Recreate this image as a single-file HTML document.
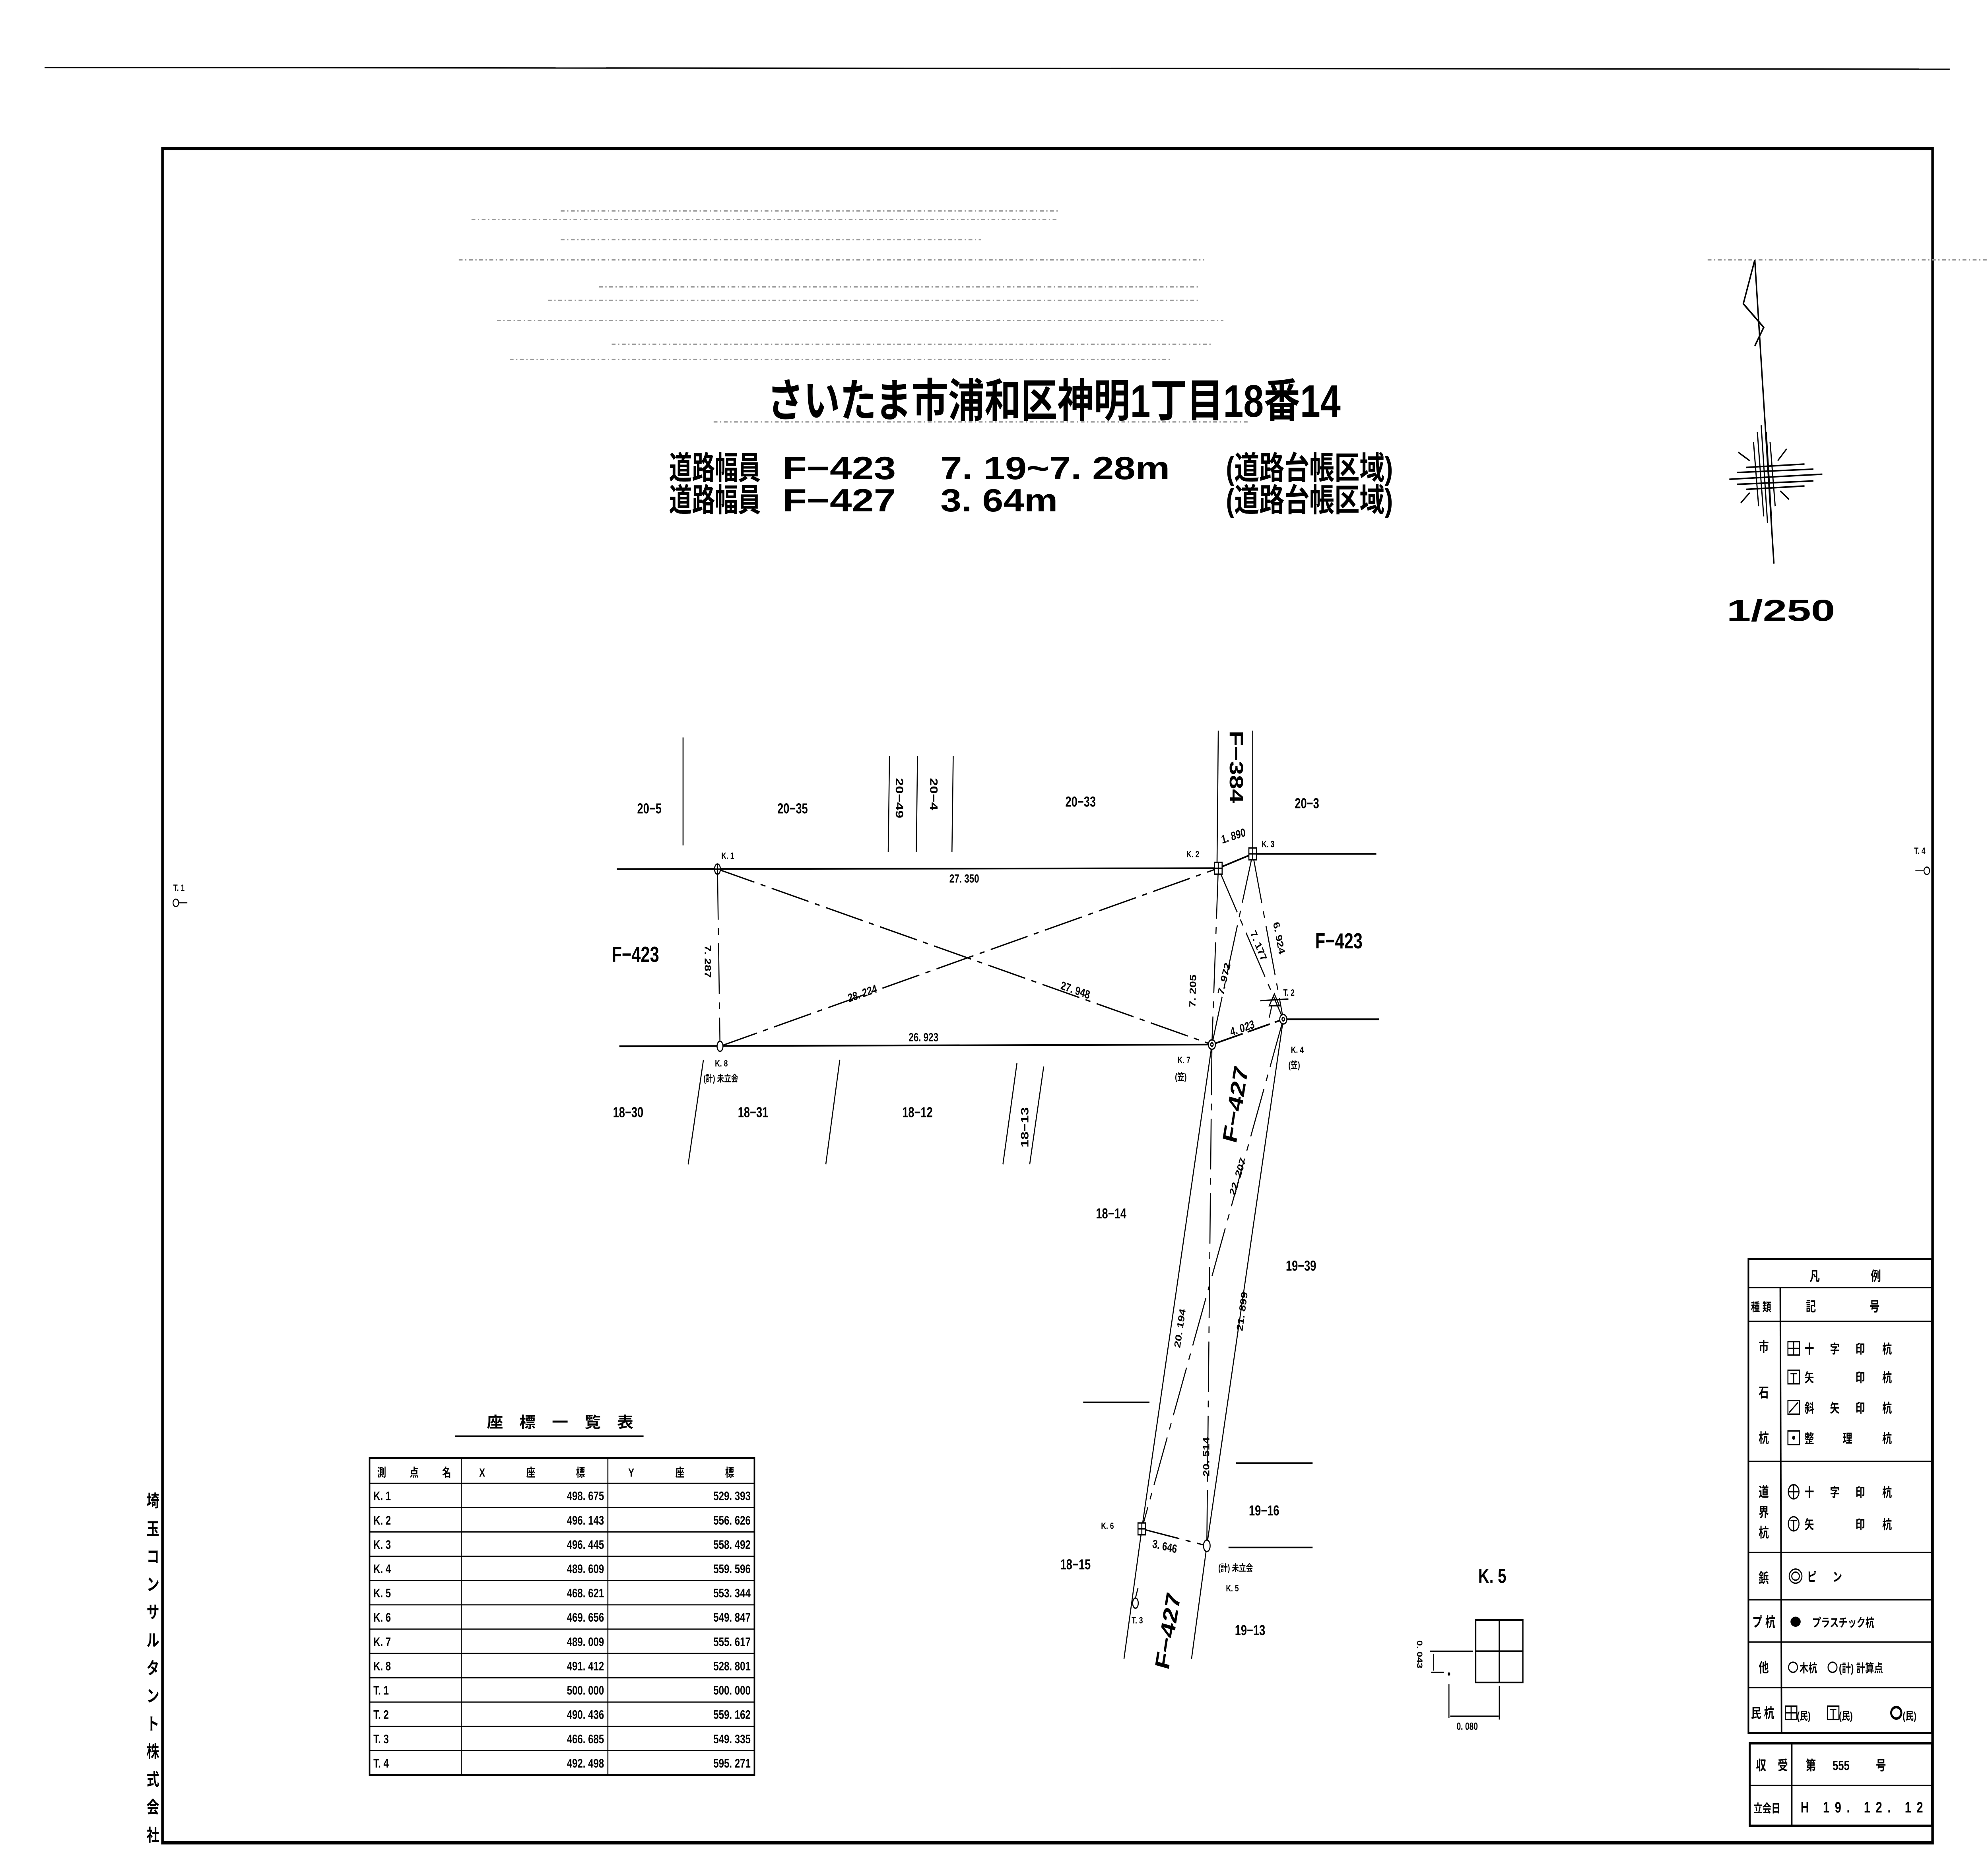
<!DOCTYPE html>
<html><head><meta charset="utf-8"><style>
html,body{margin:0;padding:0;background:#fff;overflow:hidden;width:100vw;height:100vh;}
svg{display:block;position:absolute;left:0;top:0;width:100vw;height:100vh;}
text{font-family:"Liberation Sans","Noto Sans CJK JP",sans-serif;font-weight:bold;fill:#000;}
</style></head><body>
<svg xmlns="http://www.w3.org/2000/svg" viewBox="0 0 1560 1102.8" preserveAspectRatio="none">
<rect width="1560" height="1102.8" fill="#fff"/>
<line x1="35" y1="40" x2="1530" y2="41" stroke="#000" stroke-width="0.8"/>
<rect x="127.5" y="88" width="1389" height="1004" fill="none" stroke="#000" stroke-width="2"/>
<g stroke="#999" stroke-width="0.8" stroke-dasharray="3 2 1 2">
<line x1="440" y1="125" x2="830" y2="125"/>
<line x1="370" y1="130" x2="830" y2="130"/>
<line x1="440" y1="142" x2="770" y2="142"/>
<line x1="360" y1="154" x2="945" y2="154"/>
<line x1="470" y1="170" x2="940" y2="170"/>
<line x1="430" y1="178" x2="940" y2="178"/>
<line x1="390" y1="190" x2="960" y2="190"/>
<line x1="480" y1="204" x2="950" y2="204"/>
<line x1="400" y1="213" x2="920" y2="213"/>
<line x1="560" y1="250" x2="980" y2="250"/>
<line x1="1340" y1="154" x2="1560" y2="154"/>
</g>
<text x="602" y="247" font-size="27" textLength="450" lengthAdjust="spacingAndGlyphs">さいたま市浦和区神明1丁目18番14</text>
<g font-size="19">
<text x="525" y="284" textLength="72" lengthAdjust="spacingAndGlyphs">道路幅員</text>
<text x="614" y="284" textLength="89" lengthAdjust="spacingAndGlyphs">F−423</text>
<text x="738" y="284" textLength="180" lengthAdjust="spacingAndGlyphs">7. 19~7. 28m</text>
<text x="962" y="284" textLength="131" lengthAdjust="spacingAndGlyphs">(道路台帳区域)</text>
<text x="525" y="303" textLength="72" lengthAdjust="spacingAndGlyphs">道路幅員</text>
<text x="614" y="303" textLength="89" lengthAdjust="spacingAndGlyphs">F−427</text>
<text x="738" y="303" textLength="92" lengthAdjust="spacingAndGlyphs">3. 64m</text>
<text x="962" y="303" textLength="131" lengthAdjust="spacingAndGlyphs">(道路台帳区域)</text>
</g>
<g stroke="#000" stroke-width="1.1" fill="none">
<polyline points="1377,154 1368,180 1384,194 1377,205"/>
<line x1="1377" y1="154" x2="1392" y2="334"/>
<g stroke-width="0.9">
<line x1="1357" y1="284" x2="1430" y2="281"/>
<line x1="1363" y1="287" x2="1423" y2="285"/>
<line x1="1363" y1="280" x2="1423" y2="278"/>
<line x1="1370" y1="290" x2="1416" y2="288"/>
<line x1="1370" y1="277" x2="1416" y2="275"/>
<line x1="1382" y1="252" x2="1387" y2="310"/>
<line x1="1379" y1="256" x2="1384" y2="306"/>
<line x1="1386" y1="256" x2="1390" y2="306"/>
<line x1="1376" y1="262" x2="1380" y2="300"/>
<line x1="1389" y1="262" x2="1393" y2="300"/>
<line x1="1364" y1="268" x2="1373" y2="273"/>
<line x1="1402" y1="266" x2="1395" y2="273"/>
<line x1="1366" y1="298" x2="1373" y2="292"/>
<line x1="1404" y1="296" x2="1397" y2="291"/>
</g>
</g>
<text x="1355" y="368" font-size="18" textLength="85" lengthAdjust="spacingAndGlyphs">1/250</text>

<circle cx="138" cy="535" r="2.2" fill="none" stroke="#000" stroke-width="0.7"/>
<line x1="140" y1="535" x2="147" y2="535" stroke="#000" stroke-width="0.6"/>
<text x="136" y="528" font-size="5.5">T. 1</text>
<circle cx="1512" cy="516" r="2.2" fill="none" stroke="#000" stroke-width="0.7"/>
<line x1="1503" y1="516" x2="1510" y2="516" stroke="#000" stroke-width="0.6"/>
<text x="1502" y="506" font-size="5.5">T. 4</text>

<g stroke="#000" stroke-width="1" fill="none">
<line x1="484" y1="515" x2="956" y2="514.5"/>
<line x1="983" y1="506" x2="1080" y2="506"/>
<line x1="956" y1="514.5" x2="983" y2="506"/>
<line x1="486" y1="620" x2="951" y2="619"/>
<line x1="1007" y1="604" x2="1082" y2="604"/>
<line x1="951" y1="619" x2="1007" y2="604" stroke-dasharray="25 4 18 4"/>
<polyline points="951,619 896,906 882,983" stroke-width="0.8"/>
<polyline points="1007,604 947,916 935,983" stroke-width="0.8"/>
<line x1="536" y1="437" x2="536" y2="501" stroke-width="0.8"/>
<line x1="698" y1="448" x2="697" y2="505" stroke-width="0.8"/>
<line x1="720" y1="448" x2="719" y2="505" stroke-width="0.8"/>
<line x1="748" y1="448" x2="747" y2="505" stroke-width="0.8"/>
<line x1="956" y1="433" x2="955" y2="513" stroke-width="0.8"/>
<line x1="983" y1="433" x2="983" y2="505" stroke-width="0.8"/>
<line x1="552" y1="628" x2="540" y2="690" stroke-width="0.8"/>
<line x1="659" y1="628" x2="648" y2="690" stroke-width="0.8"/>
<line x1="798" y1="630" x2="787" y2="690" stroke-width="0.8"/>
<line x1="819" y1="632" x2="808" y2="690" stroke-width="0.8"/>
<line x1="850" y1="831" x2="902" y2="831" stroke-width="0.9"/>
<line x1="970" y1="867" x2="1030" y2="867" stroke-width="0.9"/>
<line x1="964" y1="917" x2="1030" y2="917" stroke-width="0.9"/>
</g>
<g stroke="#000" stroke-width="0.8" fill="none" stroke-dasharray="30 5 4 5">
<line x1="563" y1="515" x2="951" y2="619"/>
<line x1="565" y1="620" x2="956" y2="514.5"/>
<line x1="563" y1="515" x2="565" y2="620"/>
<line x1="956" y1="514.5" x2="951" y2="619"/>
<line x1="983" y1="506" x2="951" y2="619"/>
<line x1="956" y1="514.5" x2="1007" y2="604"/>
<line x1="983" y1="506" x2="1007" y2="604"/>
<line x1="951" y1="619" x2="947" y2="916"/>
<line x1="1007" y1="604" x2="896" y2="906"/>
<line x1="896" y1="906" x2="947" y2="916"/>
</g>
<g stroke="#000" stroke-width="0.8" fill="#fff">
<ellipse cx="563" cy="515" rx="2.3" ry="3"/>
<line x1="563" y1="512" x2="563" y2="518"/>
<line x1="560.7" y1="515" x2="565.3" y2="515"/>
<ellipse cx="565" cy="620" rx="2.3" ry="3"/>
<rect x="953" y="511" width="6" height="7"/>
<line x1="956" y1="511" x2="956" y2="518"/><line x1="953" y1="514.5" x2="959" y2="514.5"/>
<rect x="980" y="502.5" width="6" height="7"/>
<line x1="983" y1="502.5" x2="983" y2="509.5"/><line x1="980" y1="506" x2="986" y2="506"/>
<circle cx="1007" cy="604" r="2.8"/><circle cx="1007" cy="604" r="1" fill="#fff"/>
<circle cx="951" cy="619" r="2.8"/><circle cx="951" cy="619" r="1" fill="#fff"/>
<rect x="893" y="902.5" width="6" height="7"/>
<line x1="896" y1="902.5" x2="896" y2="909.5"/><line x1="893" y1="906" x2="899" y2="906"/>
<ellipse cx="947" cy="916" rx="2.6" ry="3.4"/>
<ellipse cx="891" cy="950" rx="2.2" ry="3"/>
<line x1="891" y1="947" x2="893" y2="941"/>
</g>
<g stroke="#000" stroke-width="0.8" fill="none">
<line x1="989" y1="593" x2="1011" y2="592"/>
<path d="M996,596 L1000,589 L1004,596 Z"/>
<line x1="998" y1="596" x2="996" y2="603"/>
</g>

<g font-size="5.5">
<text x="566" y="509">K. 1</text>
<text x="931" y="508">K. 2</text>
<text x="990" y="502">K. 3</text>
<text x="1007" y="590">T. 2</text>
<text x="1013" y="624">K. 4</text>
<text x="1011" y="633">(笠)</text>
<text x="924" y="630">K. 7</text>
<text x="922" y="640">(笠)</text>
<text x="561" y="632">K. 8</text>
<text x="552" y="641">(計) 未立会</text>
<text x="864" y="906">K. 6</text>
<text x="956" y="931">(計) 未立会</text>
<text x="962" y="943">K. 5</text>
<text x="888" y="962">T. 3</text>
</g>
<g font-size="7">
<text x="745" y="523">27. 350</text>
<text x="713" y="617">26. 923</text>
<text transform="translate(666,594) rotate(-15)">28. 224</text>
<text transform="translate(832,586) rotate(15)">27. 948</text>
<text transform="translate(553,560) rotate(90)">7. 287</text>
<text transform="translate(959,500) rotate(-14)">1. 890</text>
<text transform="translate(938,597) rotate(-88)">7. 205</text>
<text transform="translate(960,590) rotate(-73)">7. 972</text>
<text transform="translate(981,553) rotate(62)">7. 177</text>
<text transform="translate(999,547) rotate(76)">6. 924</text>
<text transform="translate(966,614) rotate(-15)">4. 023</text>
<text transform="translate(969,709) rotate(-68)">22. 207</text>
<text transform="translate(926,799) rotate(-79)">20. 194</text>
<text transform="translate(975,789) rotate(-80)">21. 899</text>
<text transform="translate(949,875) rotate(-90)">20. 514</text>
<text transform="translate(904,917) rotate(10)">3. 646</text>
</g>
<g font-size="13">
<text x="480" y="570">F−423</text>
<text x="1032" y="562">F−423</text>
<text font-size="15" transform="translate(965,433) rotate(90)">F−384</text>
<text font-size="16" transform="translate(970,678) rotate(-78)">F−427</text>
<text font-size="16" transform="translate(917,990) rotate(-78)">F−427</text>
</g>
<g font-size="8.5">
<text x="500" y="482">20−5</text>
<text x="610" y="482">20−35</text>
<text x="836" y="478">20−33</text>
<text x="1016" y="479">20−3</text>
<text transform="translate(703,461) rotate(90)">20−49</text>
<text transform="translate(730,461) rotate(90)">20−4</text>
<text x="481" y="662">18−30</text>
<text x="579" y="662">18−31</text>
<text x="708" y="662">18−12</text>
<text transform="translate(807,680) rotate(-90)">18−13</text>
<text x="860" y="722">18−14</text>
<text x="1009" y="753">19−39</text>
<text x="980" y="898">19−16</text>
<text x="832" y="930">18−15</text>
<text x="969" y="969">19−13</text>
</g>

<text x="382" y="846" font-size="9" textLength="115" lengthAdjust="spacingAndGlyphs">座　標　一　覧　表</text>
<line x1="357" y1="851" x2="505" y2="851" stroke="#000" stroke-width="0.8"/>
<g stroke="#000" fill="none">
<rect x="290" y="864" width="302" height="188" stroke-width="1.2"/>
<line x1="362" y1="864" x2="362" y2="1052" stroke-width="0.8"/>
<line x1="477" y1="864" x2="477" y2="1052" stroke-width="0.8"/>
<g stroke-width="0.7">
<line x1="290" y1="879" x2="592" y2="879"/>
<line x1="290" y1="893.4" x2="592" y2="893.4"/>
<line x1="290" y1="907.8" x2="592" y2="907.8"/>
<line x1="290" y1="922.2" x2="592" y2="922.2"/>
<line x1="290" y1="936.6" x2="592" y2="936.6"/>
<line x1="290" y1="951" x2="592" y2="951"/>
<line x1="290" y1="965.4" x2="592" y2="965.4"/>
<line x1="290" y1="979.8" x2="592" y2="979.8"/>
<line x1="290" y1="994.2" x2="592" y2="994.2"/>
<line x1="290" y1="1008.6" x2="592" y2="1008.6"/>
<line x1="290" y1="1023" x2="592" y2="1023"/>
<line x1="290" y1="1037.4" x2="592" y2="1037.4"/>
</g></g>
<g font-size="7">
<text x="296" y="875" textLength="58" lengthAdjust="spacing">測　点　名</text>
<text x="376" y="875">X</text><text x="413" y="875">座</text><text x="452" y="875">標</text>
<text x="493" y="875">Y</text><text x="530" y="875">座</text><text x="569" y="875">標</text>
</g>
<g font-size="7.5">
<g>
<text x="293" y="889">K. 1</text><text x="293" y="903.4">K. 2</text><text x="293" y="917.8">K. 3</text>
<text x="293" y="932.2">K. 4</text><text x="293" y="946.6">K. 5</text><text x="293" y="961">K. 6</text>
<text x="293" y="975.4">K. 7</text><text x="293" y="989.8">K. 8</text><text x="293" y="1004.2">T. 1</text>
<text x="293" y="1018.6">T. 2</text><text x="293" y="1033">T. 3</text><text x="293" y="1047.4">T. 4</text>
</g>
<g text-anchor="end">
<text x="474" y="889">498. 675</text><text x="589" y="889">529. 393</text>
<text x="474" y="903.4">496. 143</text><text x="589" y="903.4">556. 626</text>
<text x="474" y="917.8">496. 445</text><text x="589" y="917.8">558. 492</text>
<text x="474" y="932.2">489. 609</text><text x="589" y="932.2">559. 596</text>
<text x="474" y="946.6">468. 621</text><text x="589" y="946.6">553. 344</text>
<text x="474" y="961">469. 656</text><text x="589" y="961">549. 847</text>
<text x="474" y="975.4">489. 009</text><text x="589" y="975.4">555. 617</text>
<text x="474" y="989.8">491. 412</text><text x="589" y="989.8">528. 801</text>
<text x="474" y="1004.2">500. 000</text><text x="589" y="1004.2">500. 000</text>
<text x="474" y="1018.6">490. 436</text><text x="589" y="1018.6">559. 162</text>
<text x="474" y="1033">466. 685</text><text x="589" y="1033">549. 335</text>
<text x="474" y="1047.4">492. 498</text><text x="589" y="1047.4">595. 271</text>
</g></g>

<g font-size="10" text-anchor="middle">
<text x="120" y="893">埼</text><text x="120" y="909.5">玉</text><text x="120" y="926">コ</text>
<text x="120" y="942.5">ン</text><text x="120" y="959">サ</text><text x="120" y="975.5">ル</text>
<text x="120" y="992">タ</text><text x="120" y="1008.5">ン</text><text x="120" y="1025">ト</text>
<text x="120" y="1041.5">株</text><text x="120" y="1058">式</text><text x="120" y="1074.5">会</text>
<text x="120" y="1091">社</text>
</g>

<text x="1160" y="938" font-size="12">K. 5</text>
<g stroke="#000" fill="none" stroke-width="1">
<rect x="1158" y="960" width="37" height="37"/>
<line x1="1176.5" y1="960" x2="1176.5" y2="997"/>
<line x1="1158" y1="978.5" x2="1195" y2="978.5"/>
<line x1="1122" y1="978.5" x2="1156" y2="978.5" stroke-width="0.8"/>
<line x1="1123" y1="991" x2="1133" y2="991" stroke-width="0.8"/>
<line x1="1125" y1="980" x2="1125" y2="990" stroke-width="0.8"/>
<line x1="1137" y1="998" x2="1137" y2="1018" stroke-width="0.8"/>
<line x1="1176.5" y1="999" x2="1176.5" y2="1019" stroke-width="0.8"/>
<line x1="1138" y1="1017" x2="1176" y2="1017" stroke-width="0.8"/>
</g>
<circle cx="1137" cy="992" r="1" fill="#000"/>
<g font-size="6">
<text transform="translate(1112,972) rotate(90)">0. 043</text>
<text x="1143" y="1025">0. 080</text>
</g>

<g stroke="#000" fill="none">
<rect x="1372" y="746" width="144" height="281" stroke-width="1.3"/>
<line x1="1372" y1="763" x2="1516" y2="763" stroke-width="0.8"/>
<line x1="1372" y1="783" x2="1516" y2="783" stroke-width="0.8"/>
<line x1="1372" y1="866" x2="1516" y2="866" stroke-width="0.8"/>
<line x1="1372" y1="920" x2="1516" y2="920" stroke-width="0.8"/>
<line x1="1372" y1="948" x2="1516" y2="948" stroke-width="0.8"/>
<line x1="1372" y1="973" x2="1516" y2="973" stroke-width="0.8"/>
<line x1="1372" y1="1000" x2="1516" y2="1000" stroke-width="0.8"/>
<line x1="1397" y1="763" x2="1398" y2="1027" stroke-width="1.2"/>
<rect x="1373" y="1033" width="143" height="49" stroke-width="1.5"/>
<line x1="1373" y1="1058" x2="1516" y2="1058" stroke-width="0.8"/>
<line x1="1406" y1="1033" x2="1406" y2="1082" stroke-width="1.2"/>
</g>
<g font-size="8">
<text x="1420" y="759">凡</text><text x="1468" y="759">例</text>
<text x="1374" y="777" font-size="7">種 類</text>
<text x="1417" y="777">記</text><text x="1467" y="777">号</text>
<text x="1380" y="801">市</text><text x="1380" y="828">石</text><text x="1380" y="855">杭</text>
<text x="1380" y="887">道</text><text x="1380" y="899">界</text><text x="1380" y="911">杭</text>
<text x="1380" y="938">鋲</text>
<text x="1375" y="964">プ 杭</text>
<text x="1380" y="991">他</text>
<text x="1374" y="1018">民 杭</text>
<text x="1378" y="1049">収</text><text x="1395" y="1049">受</text>
<text x="1376" y="1074" font-size="7">立会日</text>
<text x="1417" y="1049">第</text><text x="1438" y="1049" font-size="8">555</text><text x="1472" y="1049">号</text>
<text x="1413" y="1074" font-size="9" textLength="96" lengthAdjust="spacing">H 19. 12. 12</text>
</g>
<g font-size="7.5">
<text x="1416" y="802">十</text><text x="1436" y="802">字</text><text x="1456" y="802">印</text><text x="1477" y="802">杭</text>
<text x="1416" y="819">矢</text><text x="1456" y="819">印</text><text x="1477" y="819">杭</text>
<text x="1416" y="837">斜</text><text x="1436" y="837">矢</text><text x="1456" y="837">印</text><text x="1477" y="837">杭</text>
<text x="1416" y="855">整</text><text x="1446" y="855">理</text><text x="1477" y="855">杭</text>
<text x="1416" y="887">十</text><text x="1436" y="887">字</text><text x="1456" y="887">印</text><text x="1477" y="887">杭</text>
<text x="1416" y="906">矢</text><text x="1456" y="906">印</text><text x="1477" y="906">杭</text>
<text x="1418" y="937">ピ</text><text x="1438" y="937">ン</text>
<text x="1422" y="964" font-size="7">プラスチック杭</text>
<text x="1412" y="991" font-size="7">木杭</text>
<text x="1443" y="991" font-size="7">(計) 計算点</text>
<text x="1410" y="1019" font-size="6.5">(民)</text>
<text x="1443" y="1019" font-size="6.5">(民)</text>
<text x="1493" y="1019" font-size="6.5">(民)</text>
</g>
<g stroke="#000" fill="none" stroke-width="0.8">
<rect x="1403" y="795" width="9" height="8"/><line x1="1407.5" y1="795" x2="1407.5" y2="803"/><line x1="1403" y1="799" x2="1412" y2="799"/>
<rect x="1403" y="812" width="9" height="8"/><line x1="1407.5" y1="814" x2="1407.5" y2="820"/><line x1="1405" y1="814" x2="1410" y2="814"/>
<rect x="1403" y="830" width="9" height="8"/><line x1="1404" y1="837" x2="1411" y2="831"/>
<rect x="1403" y="848" width="9" height="8"/><circle cx="1407.5" cy="852" r="0.8" fill="#000"/>
<circle cx="1407.5" cy="884" r="4.2"/><line x1="1403.3" y1="884" x2="1411.7" y2="884"/><line x1="1407.5" y1="880" x2="1407.5" y2="888"/>
<circle cx="1407.5" cy="903" r="4.2"/><line x1="1407.5" y1="901" x2="1407.5" y2="907"/><line x1="1405" y1="901" x2="1410" y2="901"/>
<ellipse cx="1409" cy="934" rx="5" ry="4.2"/><ellipse cx="1409" cy="934" rx="3" ry="2.4"/>
<ellipse cx="1407" cy="988" rx="3.5" ry="3"/>
<ellipse cx="1438" cy="988" rx="3.5" ry="3"/>
<rect x="1401" y="1011" width="9" height="8"/><line x1="1405.5" y1="1011" x2="1405.5" y2="1019"/><line x1="1401" y1="1015" x2="1410" y2="1015"/>
<rect x="1434" y="1011" width="9" height="8"/><line x1="1438.5" y1="1013" x2="1438.5" y2="1019"/><line x1="1436" y1="1013" x2="1441" y2="1013"/>
<ellipse cx="1488" cy="1015" rx="4" ry="3.4" stroke-width="1.5"/>
</g>
<ellipse cx="1409" cy="961" rx="4" ry="3" fill="#000"/>
</svg>
</body></html>
